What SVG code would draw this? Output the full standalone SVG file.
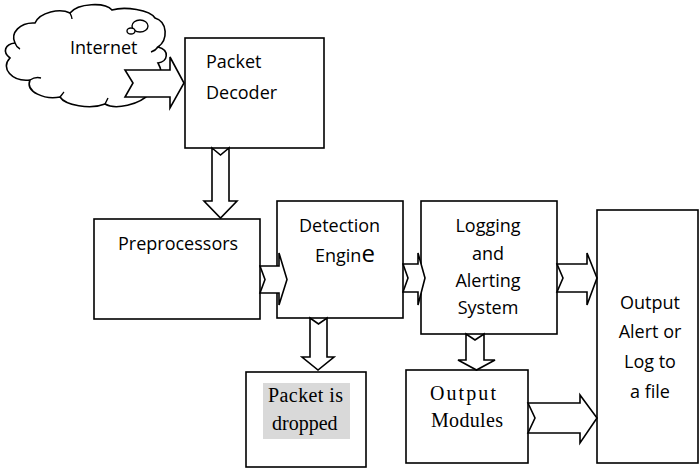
<svg xmlns="http://www.w3.org/2000/svg" width="699" height="470" viewBox="0 0 699 470">
<style>
.box{fill:#fff;stroke:#000;stroke-width:1.6}
.arr{fill:#fff;stroke:#000;stroke-width:1.6;stroke-linejoin:miter}
.t{font-family:"Open Sans","Liberation Sans",sans-serif;font-size:18px;fill:#000}
.s{font-family:"Liberation Serif","Times New Roman",serif;font-size:20px;fill:#000}
.c{fill:#fff;stroke:#000;stroke-width:1.6}
</style>
<rect width="699" height="470" fill="#fff"/>
<g id="internet">
<path class="c" d="M35,23 C40,12 60,8 70,13 C78,3 105,2 112,10 C125,6 150,10 155,18 C168,22 168,40 158,47 C170,50 168,62 158,63 C165,75 160,90 150,93 C140,105 115,110 105,104 C90,110 65,105 60,97 C45,100 25,92 30,80 C12,82 0,68 10,58 C2,52 5,44 15,43 C10,33 20,22 35,23 Z"/>
<path fill="none" stroke="#000" stroke-width="1.4" d="M30,80 C33,78 37,77 41,78 M15,43 C16,46 18,48 20,49 M70,13 C71,15 72,17 72,19 M60,97 C62,95 63,93 64,92 M105,104 C106,102 107,100 108,98 M158,47 C156,50 154,51 151,52"/>
<ellipse cx="140" cy="26" rx="8" ry="6" fill="#fff" stroke="#000" stroke-width="1.4"/>
<ellipse cx="131" cy="31" rx="4" ry="3" fill="#fff" stroke="#000" stroke-width="1.4"/>
<text class="t" x="70" y="54">Internet</text>
</g>
<g id="decoder">
<rect class="box" x="185" y="38" width="139" height="110"/>
<text class="t" x="206" y="68">Packet</text>
<text class="t" x="206" y="99">Decoder</text>
</g>
<g id="preprocessors">
<rect class="box" x="94" y="219" width="166" height="100"/>
<text class="t" x="118" y="250">Preprocessors</text>
</g>
<g id="detection">
<rect class="box" x="277" y="201" width="126" height="117"/>
<text class="t" x="299" y="232">Detection</text>
<text class="t" x="315" y="262">Engin<tspan font-size="24">e</tspan></text>
</g>
<g id="logging">
<rect class="box" x="421" y="201" width="136" height="133"/>
<text class="t" x="488" y="232" text-anchor="middle">Logging</text>
<text class="t" x="488" y="260" text-anchor="middle">and</text>
<text class="t" x="488" y="287" text-anchor="middle">Alerting</text>
<text class="t" x="488" y="314" text-anchor="middle">System</text>
</g>
<g id="output">
<rect class="box" x="597" y="210" width="101" height="253"/>
<text class="t" x="650" y="309" text-anchor="middle">Output</text>
<text class="t" x="650" y="338" text-anchor="middle">Alert or</text>
<text class="t" x="650" y="368" text-anchor="middle">Log to</text>
<text class="t" x="650" y="398" text-anchor="middle">a file</text>
</g>
<g id="modules">
<rect class="box" x="406" y="370" width="122" height="93"/>
<text class="s" x="430" y="400" textLength="66" lengthAdjust="spacing">Output</text>
<text class="s" x="431" y="427" textLength="72" lengthAdjust="spacing">Modules</text>
</g>
<g id="dropped">
<rect class="box" x="246" y="372" width="120" height="95"/>
<rect x="263" y="383" width="87" height="56" fill="#d9d9d9"/>
<text class="s" x="268" y="402" textLength="75" lengthAdjust="spacing">Packet is</text>
<text class="s" x="272" y="430">dropped</text>
</g>
<g id="connectors">
<polygon class="arr" points="125,70 170,70 170,57 184,83 170,108 170,97 125,97 133,83"/>
<polygon class="arr" points="212,148 220.5,155 229,148 229,201 237,201 220.5,218 204,201 212,201"/>
<polygon class="arr" points="260,266 279,266 279,253 287,279.5 279,305 279,293 260,293 265,279.5"/>
<polygon class="arr" points="403,264 418,264 418,253 425,278 418,305 418,292 403,292 408,278"/>
<polygon class="arr" points="557,264 587,264 587,253 597,278 587,305 587,292 557,292 563,278"/>
<polygon class="arr" points="528,403 580,403 580,395 597,418 580,443 580,433 528,433 535,418"/>
<polygon class="arr" points="466,334 475,340 484,334 484,360 495,360 476.5,370 458,360 466,360"/>
<polygon class="arr" points="310,318 318.5,324 327,318 327,357 334,357 318,370 302,357 310,357"/>
</g>
</svg>
